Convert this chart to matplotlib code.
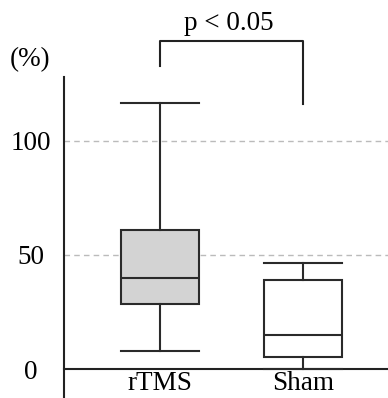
import matplotlib
matplotlib.use("Agg")
import matplotlib.pyplot as plt

# values (%)
groups = ["rTMS", "Sham"]
whislo = [7.9, 0.0]
q1 = [28.4, 5.3]
med = [40.0, 14.8]
q3 = [61.0, 38.9]
whishi = [116.5, 46.5]
face_colors = ["#d3d3d3", "white"]

yticks = [0, 50, 100]
p_text = "p < 0.05"
bracket_top = 144
bracket_left_end = 133
bracket_right_end = 116

plt.rcParams["font.family"] = ["Liberation Serif", "DejaVu Serif"]

fig = plt.figure(figsize=(3.88, 3.98), dpi=100)
ax = fig.add_axes([0.165, 0.0, 0.835, 0.8065])

stats = []
for i in range(len(groups)):
    stats.append(dict(label=groups[i], whislo=whislo[i], q1=q1[i], med=med[i],
                      q3=q3[i], whishi=whishi[i], fliers=[]))

lw = 1.5
bp = ax.bxp(stats, positions=[1, 2], widths=0.55, patch_artist=True,
            showfliers=False,
            boxprops=dict(linewidth=lw, edgecolor="#2a2a2a"),
            medianprops=dict(color="#2a2a2a", linewidth=lw),
            whiskerprops=dict(color="#2a2a2a", linewidth=lw),
            capprops=dict(color="#2a2a2a", linewidth=lw),
            capwidths=0.55)
for patch, fc in zip(bp["boxes"], face_colors):
    patch.set_facecolor(fc)
    patch.set_zorder(3)
for key in ["medians", "whiskers", "caps"]:
    for ln in bp[key]:
        ln.set_zorder(4)

ax.set_xlim(0.327, 2.597)
ax.set_ylim(-12.7, 128)

# grid lines
for y in yticks[1:]:
    ax.axhline(y, color="#bbbbbb", linestyle=(0, (4, 3)), linewidth=1.0, zorder=1)

ax.spines["top"].set_visible(False)
ax.spines["right"].set_visible(False)
ax.spines["bottom"].set_position(("data", 0))
ax.spines["left"].set_linewidth(1.5)
ax.spines["bottom"].set_linewidth(1.5)
ax.spines["left"].set_color("#222222")
ax.spines["bottom"].set_color("#222222")

fs = 19.5
ax.set_yticks(yticks)
# y labels in the picture are centred on one column, not right aligned
ax.set_yticklabels([str(t) for t in yticks], fontsize=fs, ha="center")
ax.set_xticks([1, 2])
ax.set_xticklabels(groups, fontsize=fs)
ax.tick_params(axis="y", length=0, pad=24)
ax.tick_params(axis="x", length=0, pad=1.5)

# unit label
fig.text(0.025, 0.82, "(%)", fontsize=fs, ha="left", va="bottom")

# significance bracket
ax.plot([1, 1, 2, 2], [bracket_left_end, bracket_top, bracket_top, bracket_right_end],
        color="#222222", linewidth=1.5, clip_on=False)
ax.text(1.48, bracket_top + 1.8, p_text, fontsize=fs, ha="center", va="bottom")

fig.savefig("out.png", dpi=100)
